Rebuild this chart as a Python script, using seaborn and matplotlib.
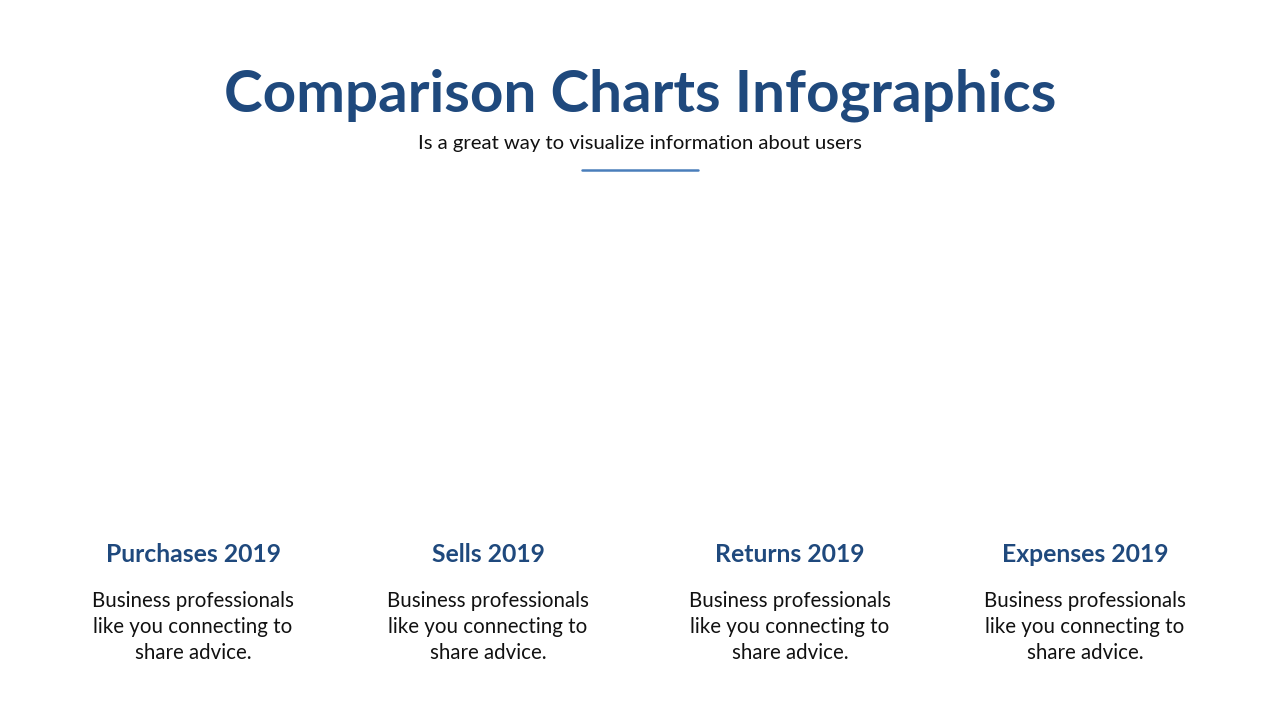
import matplotlib
matplotlib.use("Agg")
import matplotlib.pyplot as plt
import seaborn as sns

# Slide text
title = "Comparison Charts Infographics"
subtitle = "Is a great way to visualize information about users"
categories = ["Purchases 2019", "Sells 2019", "Returns 2019", "Expenses 2019"]
descriptions = ["Business professionals\nlike you connecting to\nshare advice."] * 4
centers = [193, 488, 790, 1085]

sns.set_theme(style="white")
plt.rcParams["font.family"] = ["Lato", "DejaVu Sans"]

dark_blue = "#1F497D"
accent = "#4A7EBB"

fig = plt.figure(figsize=(12.8, 7.2), dpi=100)
ax = fig.add_axes([0, 0, 1, 1])
ax.set_xlim(0, 1280)
ax.set_ylim(720, 0)
ax.axis("off")

ax.text(640, 95, title, ha="center", va="center", fontsize=42,
        fontweight="bold", color=dark_blue)
ax.text(640, 143, subtitle, ha="center", va="center", fontsize=14.6,
        color="#111111")
sns.lineplot(x=[582, 698], y=[170, 170], color=accent, linewidth=1.8, ax=ax)

for cx, cat, desc in zip(centers, categories, descriptions):
    ax.text(cx, 555, cat, ha="center", va="center", fontsize=17.8,
            fontweight="bold", color=dark_blue)
    ax.text(cx, 627, desc, ha="center", va="center", fontsize=14.8,
            color="#111111", linespacing=1.38)

fig.savefig("out.png", dpi=100)
